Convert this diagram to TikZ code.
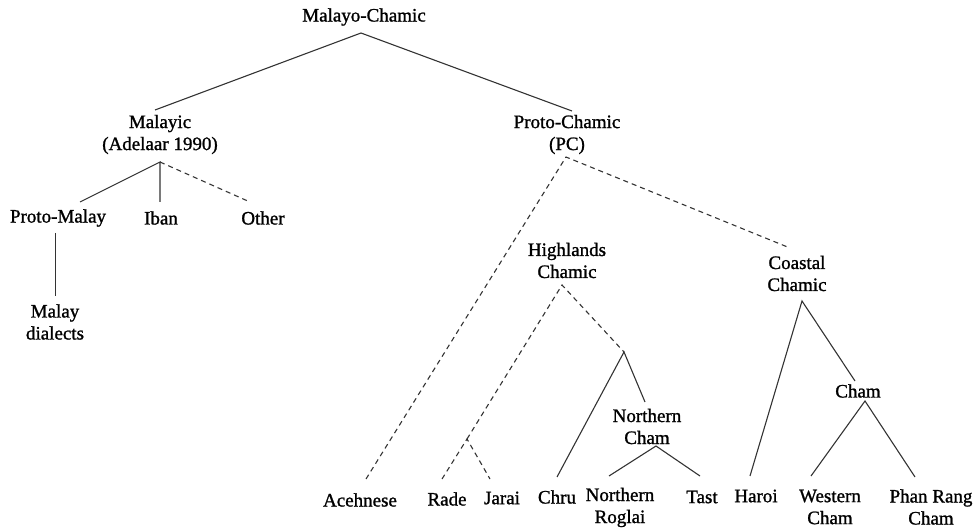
\documentclass[tikz,border=0pt]{standalone}
\usepackage{fontspec}
\setmainfont{Liberation Serif}
\newfontfamily\treefont{Liberation Serif}
\newcommand\heavytext[1]{\special{pdf:code 2 Tr 0.22 w}#1\special{pdf:code 0 Tr}}
\usetikzlibrary{calc}
\begin{document}
\begin{tikzpicture}[x=1pt,y=-1pt,
  lbl/.style={inner sep=0pt, align=center, font=\treefont\fontsize{19}{22}\selectfont, text=black},
  br/.style={line width=1.1pt, draw=black!80},
  dbr/.style={br, dash pattern=on 5pt off 4pt}]
\useasboundingbox (0,0) rectangle (980,529);
% nodes
\node[lbl] (mc) at (364,17) {\heavytext{Malayo-Chamic}};
\node[lbl] (malayic) at (160,134.5) {\heavytext{Malayic}\\\heavytext{(Adelaar 1990)}};
\node[lbl] (pc) at (567,134.5) {\heavytext{Proto-Chamic}\\\heavytext{(PC)}};
\node[lbl] (pm) at (58,218) {\heavytext{Proto-Malay}};
\node[lbl] (iban) at (161,218) {\heavytext{Iban}};
\node[lbl] (other) at (263,218) {\heavytext{Other}};
\node[lbl] (md) at (55,322) {\heavytext{Malay}\\\heavytext{dialects}};
\node[lbl] (hc) at (567,260.5) {\heavytext{Highlands}\\\heavytext{Chamic}};
\node[lbl] (cc) at (797,273.5) {\heavytext{Coastal}\\\heavytext{Chamic}};
\node[lbl] (nc) at (647,426.5) {\heavytext{Northern}\\\heavytext{Cham}};
\node[lbl] (cham) at (858,391) {\heavytext{Cham}};
\node[lbl] (aceh) at (360,500) {\heavytext{Acehnese}};
\node[lbl] (rade) at (447,499) {\heavytext{Rade}};
\node[lbl] (jarai) at (502,498) {\heavytext{Jarai}};
\node[lbl] (chru) at (557,497) {\heavytext{Chru}};
\node[lbl] (nr) at (620,507.5) {\heavytext{Northern}\\\heavytext{Roglai}};
\node[lbl] (tast) at (702,497) {\heavytext{Tast}};
\node[lbl] (haroi) at (756,496) {\heavytext{Haroi}};
\node[lbl] (wc) at (830,507) {\heavytext{Western}\\\heavytext{Cham}};
\node[lbl] (prc) at (931,507) {\heavytext{Phan Rang}\\\heavytext{Cham}};
% attachment points, relative to nodes
\path (mc) ++(-3,16) coordinate (mcB)
      (malayic) ++(-5,-24.5) coordinate (malT)
      (malayic) ++(0,27.5) coordinate (malB)
      (pc) ++(5,-23.5) coordinate (pcT)
      (pc) ++(-1,22.5) coordinate (pcB)
      (pm) ++(22,-16) coordinate (pmT)
      (pm) ++(-2.5,15) coordinate (pmB)
      (iban) ++(-1,-16) coordinate (ibanT)
      (other) ++(-13,-16) coordinate (otherT)
      (md) ++(0.5,-26) coordinate (mdT)
      (aceh) ++(6,-21) coordinate (acehT)
      (cc) ++(-7,-25.5) coordinate (ccT)
      (cc) ++(5,27.5) coordinate (ccB)
      (hc) ++(-5,24.5) coordinate (hcB)
      (rade) ++(-5,-20) coordinate (radeT)
      (jarai) ++(-12,-19) coordinate (jaraiT)
      (chru) ++(0,-20) coordinate (chruT)
      (nc) ++(-2,-24.5) coordinate (ncT)
      (nc) ++(9,19.5) coordinate (ncB)
      (nr) ++(-11,-31.5) coordinate (nrT)
      (tast) ++(-2,-21) coordinate (tastT)
      (haroi) ++(-6,-20) coordinate (haroiT)
      (cham) ++(-3,-10) coordinate (chamT)
      (cham) ++(7,10) coordinate (chamB)
      (wc) ++(-19,-31) coordinate (wcT)
      (prc) ++(-16,-30) coordinate (prcT);
\coordinate (rjA) at (467,439);
\coordinate (ncA) at (624,352);
% connectors
\draw[br] (malT) -- (mcB) -- (pcT);
\draw[br] (pmT) -- (malB) -- (ibanT);
\draw[dbr] (malB) -- (otherT);
\draw[br] (pmB) -- (mdT);
\draw[dbr] (acehT) -- (pcB) -- (ccT);
\draw[dbr] (rjA) -- (hcB) -- (ncA);
\draw[dbr] (radeT) -- (rjA) -- (jaraiT);
\draw[br] (chruT) -- (ncA) -- (ncT);
\draw[br] (nrT) -- (ncB) -- (tastT);
\draw[br] (haroiT) -- (ccB) -- (chamT);
\draw[br] (wcT) -- (chamB) -- (prcT);
\end{tikzpicture}
\end{document}
